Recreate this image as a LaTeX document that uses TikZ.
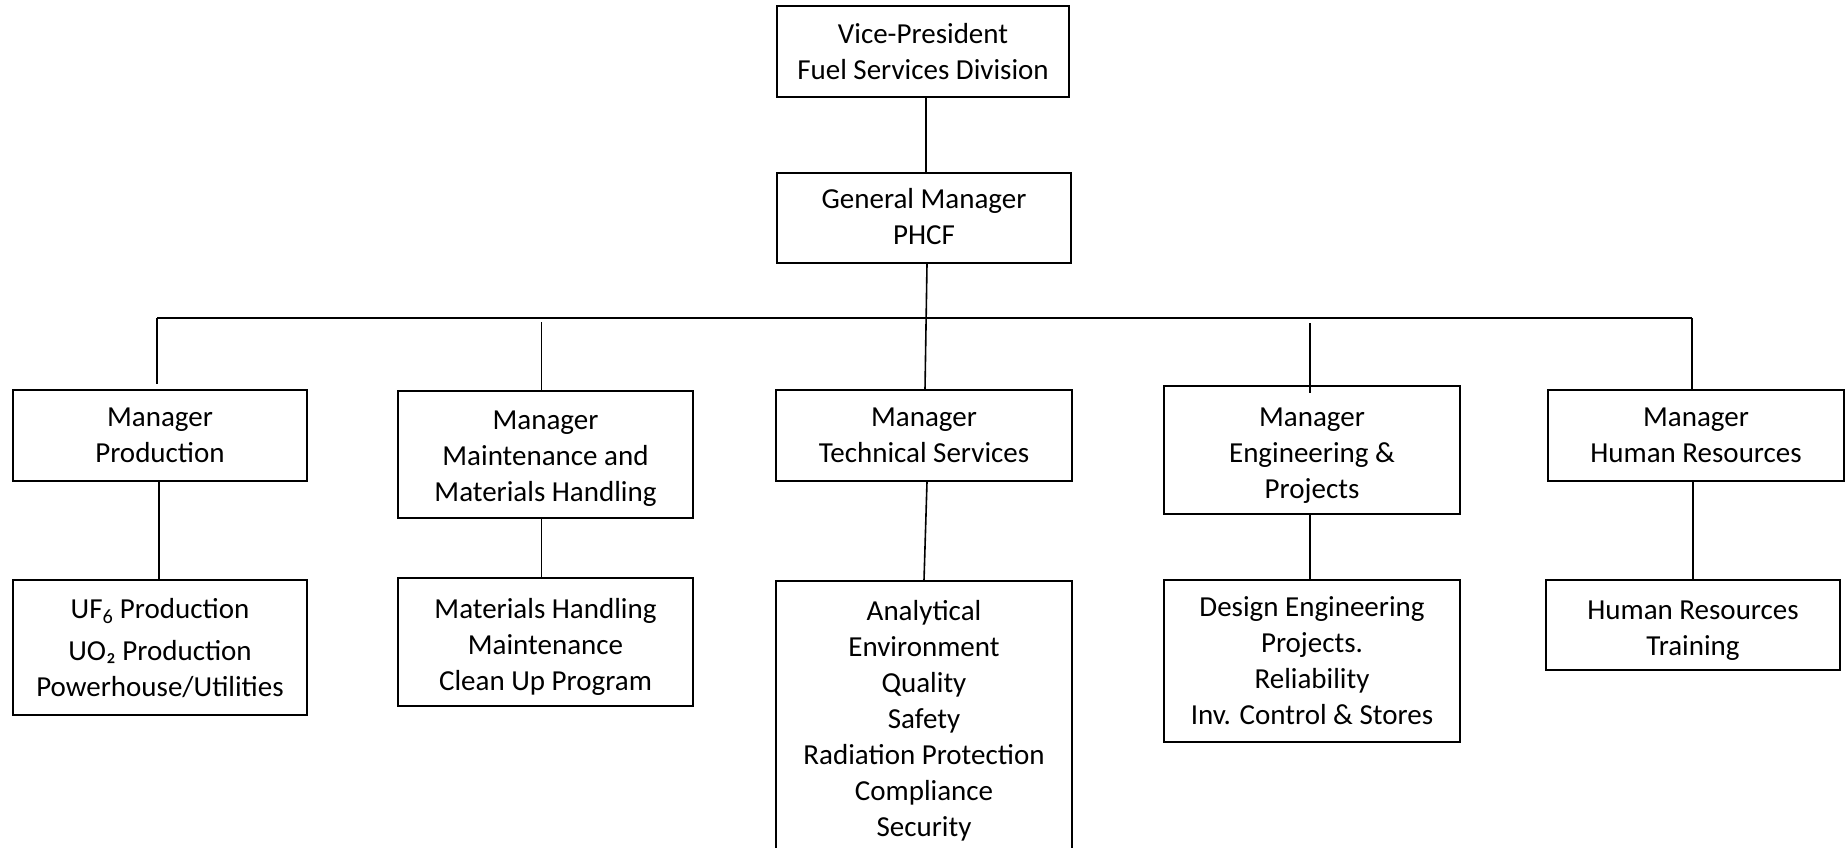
\documentclass[tikz,border=0pt]{standalone}
\usepackage{fontspec}
\setmainfont{Carlito}
\newcommand\boxtext[2]{\raisebox{#1}[\height][\depth]{\begin{tabular}{@{}c@{}}#2\end{tabular}}}
\begin{document}
\begin{tikzpicture}[x=1pt,y=-1pt,
  box/.style={draw=black,line width=1.6pt,rectangle,align=center,inner sep=0pt,
    font=\fontsize{29}{36}\selectfont},
  conn/.style={draw=black,line width=1.6pt}]
\useasboundingbox (0,0) rectangle (1847,847);
\begin{scope}
\clip (0,0) rectangle (1847,847);
\node[box,minimum width=292pt,minimum height=91pt] (VP) at (923,51.5) {\boxtext{-3pt}{Vice-President\\Fuel Services Division}};
\node[box,minimum width=294pt,minimum height=90pt] (GM) at (924,218) {\boxtext{-1pt}{General Manager\\PHCF}};
\node[box,minimum width=294pt,minimum height=91pt] (MP) at (160,435.5) {\boxtext{-2pt}{Manager\\Production}};
\node[box,minimum width=295pt,minimum height=127pt] (MM) at (545.5,454.5) {\boxtext{-4pt}{Manager\\Maintenance and\\Materials Handling}};
\node[box,minimum width=296pt,minimum height=91pt] (MT) at (924,435.5) {\boxtext{-2pt}{Manager\\Technical Services}};
\node[box,minimum width=296pt,minimum height=128pt] (ME) at (1312,450) {\boxtext{-5pt}{Manager\\Engineering \&\\Projects}};
\node[box,minimum width=296pt,minimum height=91pt] (MH) at (1696,435.5) {\boxtext{-2pt}{Manager\\Human Resources}};
\node[box,minimum width=294pt,minimum height=135pt] (SP) at (160,647.5) {\boxtext{-3pt}{UF\textsubscript{6} Production\\[6pt]UO₂ Production\\Powerhouse/Utilities}};
\node[box,minimum width=295pt,minimum height=128pt] (SM) at (545.5,642) {\boxtext{-5pt}{Materials Handling\\Maintenance\\Clean Up Program}};
\node[box,minimum width=296pt,minimum height=284pt] (ST) at (924,723) {\boxtext{2pt}{Analytical\\Environment\\Quality\\Safety\\Radiation Protection\\Compliance\\Security}};
\node[box,minimum width=296pt,minimum height=162pt] (SE) at (1312,661) {\boxtext{-2pt}{Design Engineering\\Projects.\\Reliability\\Inv. Control \& Stores}};
\node[box,minimum width=294pt,minimum height=90pt] (SH) at (1693,625) {\boxtext{-5pt}{Human Resources\\Training}};
\end{scope}
\coordinate (busL) at (157,318);
\coordinate (busR) at (1692,318);
\draw[conn] ([xshift=3pt]VP.south) -- ([xshift=2pt]GM.north);
\draw[conn] ([xshift=3pt]GM.south) -- ([xshift=1pt]MT.north);
\draw[conn] (busL) -- (busR);
\draw[conn,shorten >=5pt] (busL) -- (busL |- MP.north);
\draw[conn,shorten <=4pt] ([xshift=-4pt]MM.north |- busL) -- ([xshift=-4pt]MM.north);
\draw[conn,shorten <=5pt,shorten >=-8pt] ([xshift=-2pt]ME.north |- busL) -- ([xshift=-2pt]ME.north);
\draw[conn] (busR) -- (busR |- MH.north);
\draw[conn] ([xshift=-1pt]MP.south) -- ([xshift=-1pt]MP.south |- SP.north);
\draw[conn] ([xshift=-4pt]MM.south) -- ([xshift=-4pt]MM.south |- SM.north);
\draw[conn] ([xshift=3pt]MT.south) -- (ST.north);
\draw[conn] ([xshift=-2pt]ME.south) -- ([xshift=-2pt]ME.south |- SE.north);
\draw[conn] ([xshift=-3pt]MH.south) -- ([xshift=-3pt]MH.south |- SH.north);
\end{tikzpicture}
\end{document}
